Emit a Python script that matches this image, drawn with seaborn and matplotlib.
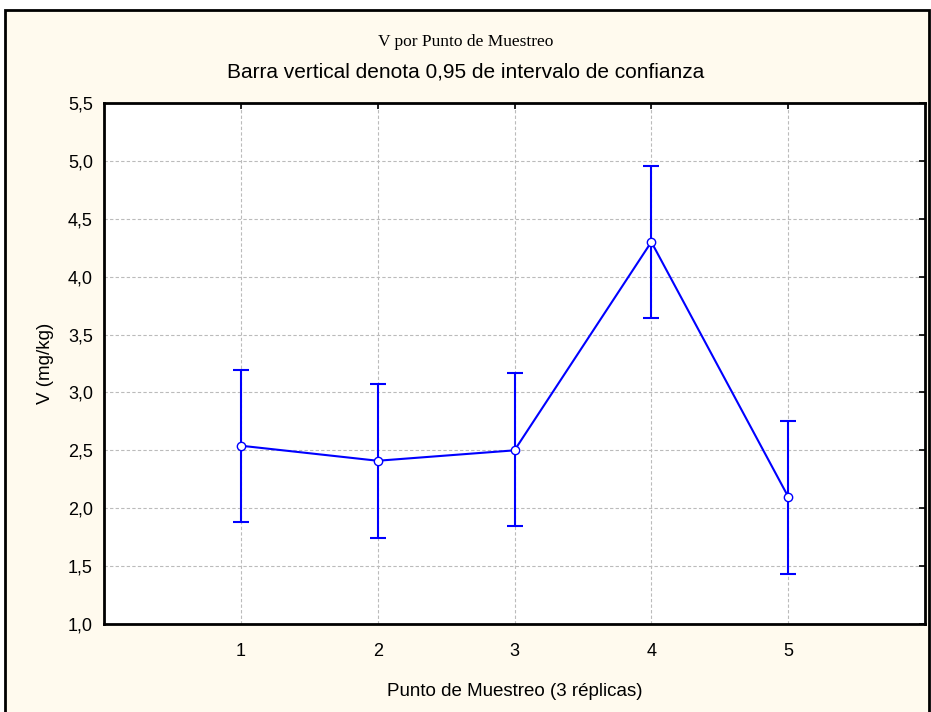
import matplotlib
matplotlib.use("Agg")
import matplotlib.pyplot as plt
import seaborn as sns
import pandas as pd
from matplotlib.patches import Rectangle
from matplotlib.ticker import FuncFormatter

# data
puntos = [1, 2, 3, 4, 5]
medias = [2.54, 2.41, 2.50, 4.30, 2.10]
ci_inf = [1.88, 1.74, 1.85, 3.64, 1.43]
ci_sup = [3.19, 3.07, 3.17, 4.96, 2.75]
y_ticks = [1.0, 1.5, 2.0, 2.5, 3.0, 3.5, 4.0, 4.5, 5.0, 5.5]

df = pd.DataFrame({"punto": puntos, "V": medias, "lo": ci_inf, "hi": ci_sup})

sns.set_style("white")
plt.rcParams["font.family"] = ["Liberation Sans Narrow", "Liberation Sans", "DejaVu Sans"]
plt.rcParams["text.color"] = "black"
plt.rcParams["axes.labelcolor"] = "black"

fig = plt.figure(figsize=(9.31, 7.12), dpi=100, facecolor="white")
# cream panel with black frame
fig.patches.append(Rectangle((5 / 931, -0.05), 924 / 931, 1.05 - 10 / 712,
                             transform=fig.transFigure, facecolor="#FFFAEE",
                             edgecolor="black", linewidth=2, zorder=-1))

ax = fig.add_axes([104 / 931, 1 - 624 / 712, 821 / 931, 521 / 712])
ax.set_facecolor("white")

ax.errorbar(df["punto"], df["V"],
            yerr=[df["V"] - df["lo"], df["hi"] - df["V"]],
            fmt="none", ecolor="#0000FF", elinewidth=1.5, capsize=6, capthick=1.5, zorder=3)
sns.lineplot(data=df, x="punto", y="V", ax=ax, color="#0000FF", linewidth=1.5,
             marker="o", markersize=6, markerfacecolor="white",
             markeredgecolor="#0000FF", markeredgewidth=1, zorder=4)

ax.set_xlim(0, 6)
ax.set_ylim(1.0, 5.5)
ax.set_xticks(puntos)
ax.set_yticks(y_ticks)
ax.yaxis.set_major_formatter(FuncFormatter(lambda v, p: f"{v:.1f}".replace(".", ",")))
ax.grid(True, color="#BBBBBB", linestyle=(0, (3, 2)), linewidth=0.8)
ax.tick_params(direction="in", length=4, width=1.2, labelsize=13,
               top=True, right=True, colors="black")
ax.tick_params(axis="y", pad=8)
ax.tick_params(axis="x", pad=14)
for s in ax.spines.values():
    s.set_linewidth(2)
    s.set_color("black")

ax.set_xlabel("Punto de Muestreo (3 réplicas)", fontsize=13.5, labelpad=16)
ax.set_ylabel("V (mg/kg)", fontsize=13.5, labelpad=10)

fig.text(0.5, 1 - 42 / 712, "V por Punto de Muestreo", ha="center", va="center",
         fontsize=12.5, family=["Liberation Serif", "DejaVu Serif"])
fig.text(0.5, 1 - 72 / 712, "Barra vertical denota 0,95 de intervalo de confianza",
         ha="center", va="center", fontsize=15)

fig.savefig("out.png", dpi=100, facecolor=fig.get_facecolor())
